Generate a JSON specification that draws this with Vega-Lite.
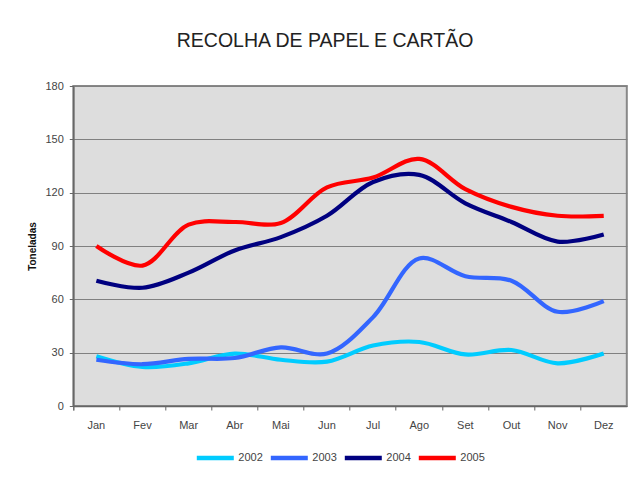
{
  "$schema": "https://vega.github.io/schema/vega-lite/v6.json",
  "autosize": "none",
  "width": 553.5,
  "height": 320,
  "padding": {"left": 73.3, "top": 86, "right": 5.2, "bottom": 77},
  "background": "white",
  "title": {
    "text": "RECOLHA DE PAPEL E CARTÃO",
    "font": "Liberation Sans",
    "fontSize": 19.5,
    "fontWeight": "normal",
    "color": "#222222",
    "anchor": "middle",
    "dx": -25,
    "offset": 29
  },
  "data": {
    "values": [
      {"month": "Jan", "year": "2002", "value": 28},
      {"month": "Fev", "year": "2002", "value": 22},
      {"month": "Mar", "year": "2002", "value": 24},
      {"month": "Abr", "year": "2002", "value": 29.5},
      {"month": "Mai", "year": "2002", "value": 26},
      {"month": "Jun", "year": "2002", "value": 25},
      {"month": "Jul", "year": "2002", "value": 34},
      {"month": "Ago", "year": "2002", "value": 36},
      {"month": "Set", "year": "2002", "value": 29},
      {"month": "Out", "year": "2002", "value": 31.5},
      {"month": "Nov", "year": "2002", "value": 24},
      {"month": "Dez", "year": "2002", "value": 29.5},
      {"month": "Jan", "year": "2003", "value": 26},
      {"month": "Fev", "year": "2003", "value": 23.5},
      {"month": "Mar", "year": "2003", "value": 26.5},
      {"month": "Abr", "year": "2003", "value": 27},
      {"month": "Mai", "year": "2003", "value": 33},
      {"month": "Jun", "year": "2003", "value": 29.5},
      {"month": "Jul", "year": "2003", "value": 50},
      {"month": "Ago", "year": "2003", "value": 83},
      {"month": "Set", "year": "2003", "value": 73},
      {"month": "Out", "year": "2003", "value": 70.5},
      {"month": "Nov", "year": "2003", "value": 53},
      {"month": "Dez", "year": "2003", "value": 59},
      {"month": "Jan", "year": "2004", "value": 70.5},
      {"month": "Fev", "year": "2004", "value": 66.5},
      {"month": "Mar", "year": "2004", "value": 75},
      {"month": "Abr", "year": "2004", "value": 87.5},
      {"month": "Mai", "year": "2004", "value": 95},
      {"month": "Jun", "year": "2004", "value": 107},
      {"month": "Jul", "year": "2004", "value": 126},
      {"month": "Ago", "year": "2004", "value": 130},
      {"month": "Set", "year": "2004", "value": 114},
      {"month": "Out", "year": "2004", "value": 103.5},
      {"month": "Nov", "year": "2004", "value": 92.5},
      {"month": "Dez", "year": "2004", "value": 96.5},
      {"month": "Jan", "year": "2005", "value": 90},
      {"month": "Fev", "year": "2005", "value": 79},
      {"month": "Mar", "year": "2005", "value": 102},
      {"month": "Abr", "year": "2005", "value": 103.5},
      {"month": "Mai", "year": "2005", "value": 103},
      {"month": "Jun", "year": "2005", "value": 123},
      {"month": "Jul", "year": "2005", "value": 128.5},
      {"month": "Ago", "year": "2005", "value": 139},
      {"month": "Set", "year": "2005", "value": 122},
      {"month": "Out", "year": "2005", "value": 112},
      {"month": "Nov", "year": "2005", "value": 107},
      {"month": "Dez", "year": "2005", "value": 107}
    ]
  },
  "mark": {"type": "line", "interpolate": "catmull-rom", "strokeWidth": 4.2, "strokeCap": "butt", "strokeJoin": "round"},
  "encoding": {
    "x": {
      "field": "month",
      "type": "nominal",
      "sort": ["Jan", "Fev", "Mar", "Abr", "Mai", "Jun", "Jul", "Ago", "Set", "Out", "Nov", "Dez"],
      "bandPosition": 0.5,
      "scale": {"type": "band", "paddingInner": 0, "paddingOuter": 0},
      "axis": {
        "title": null,
        "labelAngle": 0,
        "bandPosition": 0,
        "tickExtra": true,
        "tickSize": 4,
        "tickColor": "#666666",
        "domainColor": "#666666",
        "domainWidth": 1.5,
        "labelPadding": 9,
        "labelFont": "Liberation Sans",
        "labelFontSize": 11,
        "labelColor": "#444444",
        "grid": false
      }
    },
    "y": {
      "field": "value",
      "type": "quantitative",
      "scale": {"domain": [0, 180], "nice": false},
      "axis": {
        "title": "Toneladas",
        "titleFont": "Liberation Sans",
        "titleFontSize": 10,
        "titleFontWeight": "bold",
        "titleColor": "#111111",
        "titlePadding": 7,
        "values": [0, 30, 60, 90, 120, 150, 180],
        "tickSize": 4,
        "tickColor": "#666666",
        "domainColor": "#666666",
        "domainWidth": 1.5,
        "labelPadding": 6,
        "labelFont": "Liberation Sans",
        "labelFontSize": 11,
        "labelColor": "#444444",
        "grid": true,
        "gridColor": "#808080",
        "gridWidth": 1
      }
    },
    "color": {
      "field": "year",
      "type": "nominal",
      "scale": {"domain": ["2002", "2003", "2004", "2005"], "range": ["#00CCFF", "#3366FF", "#000080", "#FF0000"]},
      "legend": {
        "title": null,
        "orient": "none",
        "legendX": 121,
        "legendY": 351,
        "padding": 0,
        "direction": "horizontal",
        "symbolType": "stroke",
        "symbolSize": 1369,
        "symbolStrokeWidth": 4.5,
        "labelFont": "Liberation Sans",
        "labelFontSize": 11,
        "labelColor": "#444444",
        "labelOffset": 2,
        "columnPadding": -2
      }
    }
  },
  "config": {
    "view": {"fill": "#DDDDDD", "stroke": "#888888", "strokeWidth": 2}
  }
}
